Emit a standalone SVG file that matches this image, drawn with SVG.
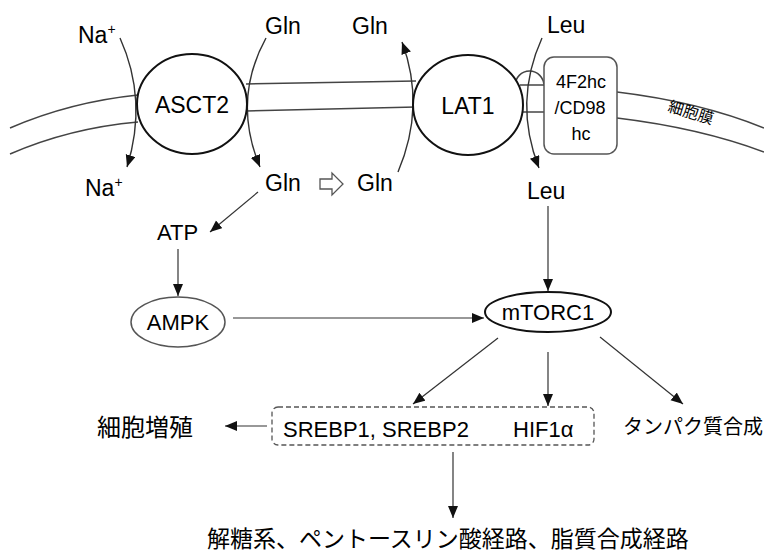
<svg xmlns="http://www.w3.org/2000/svg" width="764" height="555" viewBox="0 0 764 555">
<style>
.t{font-family:"Liberation Sans","Noto Sans CJK JP",sans-serif;fill:#000}
.j{font-family:"Noto Sans CJK JP","Liberation Sans",sans-serif;fill:#000}
.mem{fill:none;stroke:#444;stroke-width:1.5}
.node{fill:#fff;stroke:#111;stroke-width:2}
.c{fill:none;stroke:#333;stroke-width:1.2}
.cc{fill:none;stroke:#333;stroke-width:1.4}
</style>
<defs>
<marker id="ah" markerUnits="userSpaceOnUse" markerWidth="14" markerHeight="12" refX="12" refY="5" orient="auto">
<path d="M0,0 L12,5 L0,10 z" fill="#111"/>
</marker>
</defs>
<rect width="764" height="555" fill="#fff"/>
<g id="membrane">
<path class="mem" d="M10,128 Q70,102 138,95"/>
<path class="mem" d="M10,154 Q70,128 138,122"/>
<path class="mem" d="M246,84 L416,81"/>
<path class="mem" d="M246,111 L416,107"/>
<path class="mem" d="M520,85 L545,85"/>
<path class="mem" d="M520,112 L545,112"/>
<path class="mem" d="M617,92 Q700,102 764,128"/>
<path class="mem" d="M617,118 Q700,128 764,152"/>
<path class="mem" d="M515,86 A14.5,15 0 0 1 544,86"/>
<text class="j" font-size="15.5" transform="translate(667,111) rotate(17)">細胞膜</text>
</g>
<g id="connectors">
<path class="cc" d="M120,38 Q148,100 127,167" marker-end="url(#ah)"/>
<path class="cc" d="M266,38 Q232,100 260,167" marker-end="url(#ah)"/>
<path class="cc" d="M398,172 Q426,106 402,42" marker-end="url(#ah)"/>
<path class="cc" d="M542,38 Q513,102 539,168" marker-end="url(#ah)"/>
<path d="M320,179 L332,179 L332,173 L343,184 L332,195 L332,189 L320,189 z" fill="#fff" stroke="#555" stroke-width="1.3"/>
<path class="c" d="M258,192 L210,232" marker-end="url(#ah)"/>
<path class="c" d="M178,249 L178,296" marker-end="url(#ah)"/>
<path class="c" d="M233,318 L484,318" marker-end="url(#ah)"/>
<path class="c" d="M548,206 L548,291" marker-end="url(#ah)"/>
<path class="c" d="M498,338 L413,404" marker-end="url(#ah)"/>
<path class="c" d="M548,352 L548,406" marker-end="url(#ah)"/>
<path class="c" d="M600,337 L683,404" marker-end="url(#ah)"/>
<path class="c" d="M267,426 L225,426" marker-end="url(#ah)"/>
<path class="c" d="M453,452 L453,518" marker-end="url(#ah)"/>
</g>
<g id="ASCT2">
<ellipse class="node" cx="192" cy="104" rx="55" ry="50"/>
<text class="t" x="192" y="113" font-size="23" text-anchor="middle">ASCT2</text>
</g>
<g id="LAT1">
<ellipse class="node" cx="468" cy="105" rx="55" ry="50"/>
<text class="t" x="468" y="114" font-size="23" text-anchor="middle">LAT1</text>
</g>
<g id="4F2hc">
<rect x="544" y="57" width="73" height="97" rx="10" fill="#fff" stroke="#555" stroke-width="1.5"/>
<text class="t" x="581" y="88" font-size="18" text-anchor="middle">4F2hc</text>
<text class="t" x="580" y="114" font-size="18" text-anchor="middle">/CD98</text>
<text class="t" x="581" y="140" font-size="18" text-anchor="middle">hc</text>
</g>
<g id="Na_out"><text class="t" x="78" y="43" font-size="23">Na<tspan font-size="14" dy="-9">+</tspan></text></g>
<g id="Na_in"><text class="t" x="85" y="196" font-size="23">Na<tspan font-size="14" dy="-9">+</tspan></text></g>
<g id="Gln_out1"><text class="t" x="265" y="34" font-size="23">Gln</text></g>
<g id="Gln_out2"><text class="t" x="352" y="34" font-size="23">Gln</text></g>
<g id="Leu_out"><text class="t" x="547" y="33" font-size="23">Leu</text></g>
<g id="Gln_in1"><text class="t" x="265" y="191" font-size="23">Gln</text></g>
<g id="Gln_in2"><text class="t" x="357" y="191" font-size="23">Gln</text></g>
<g id="Leu_in"><text class="t" x="527" y="199" font-size="23">Leu</text></g>
<g id="ATP"><text class="t" x="157" y="240" font-size="22">ATP</text></g>
<g id="AMPK">
<ellipse cx="178" cy="322" rx="47" ry="25" fill="#fff" stroke="#555" stroke-width="1.5"/>
<text class="t" x="178" y="330" font-size="22" text-anchor="middle">AMPK</text>
</g>
<g id="mTORC1">
<ellipse class="node" cx="548" cy="312" rx="63" ry="20"/>
<text class="t" x="548" y="320" font-size="22" text-anchor="middle">mTORC1</text>
</g>
<g id="SREBP">
<rect x="272" y="407" width="322" height="38" rx="6" fill="#fff" stroke="#555" stroke-width="1.3" stroke-dasharray="5,3"/>
<text class="t" x="283" y="437" font-size="22">SREBP1, SREBP2</text>
<text class="t" x="513" y="437" font-size="22">HIF1α</text>
</g>
<g id="prolif"><text class="j" x="97" y="436" font-size="24">細胞増殖</text></g>
<g id="protein"><text class="j" x="623" y="434" font-size="20">タンパク質合成</text></g>
<g id="pathways"><text class="j" x="207" y="547" font-size="23">解糖系、ペントースリン酸経路、脂質合成経路</text></g>
</svg>
